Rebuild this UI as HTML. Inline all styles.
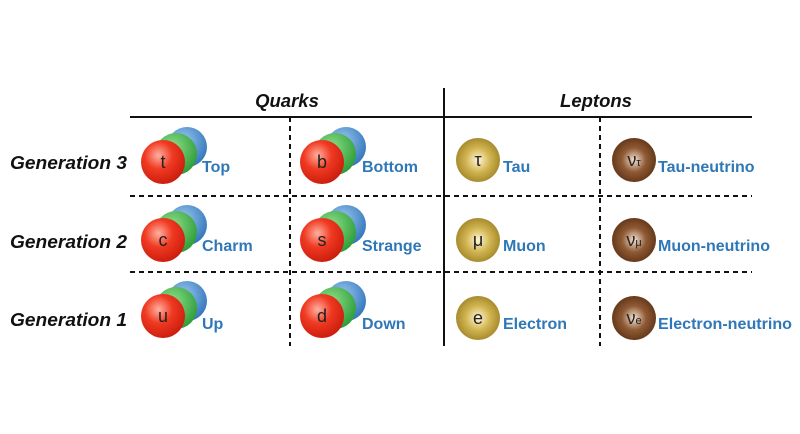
<!DOCTYPE html>
<html><head><meta charset="utf-8"><style>
html,body{margin:0;padding:0;background:#fff;width:800px;height:434px;overflow:hidden}
svg text{font-family:"Liberation Sans",Arial,sans-serif}
</style></head><body>
<svg width="800" height="434" viewBox="0 0 800 434" xmlns="http://www.w3.org/2000/svg">
<defs>
<radialGradient id="r" cx="0.4" cy="0.35" r="0.7"><stop offset="0" stop-color="#ffb0a0"/><stop offset="0.45" stop-color="#f03a22"/><stop offset="1" stop-color="#c81a0c"/></radialGradient>
<radialGradient id="g" cx="0.4" cy="0.35" r="0.7"><stop offset="0" stop-color="#8fe08a"/><stop offset="1" stop-color="#2a9a36"/></radialGradient>
<radialGradient id="b" cx="0.4" cy="0.35" r="0.7"><stop offset="0" stop-color="#9cc8f0"/><stop offset="1" stop-color="#2f74b8"/></radialGradient>
<radialGradient id="y" cx="0.5" cy="0.5" r="0.55"><stop offset="0" stop-color="#fff6d8"/><stop offset="0.5" stop-color="#d2b552"/><stop offset="1" stop-color="#9e8224"/></radialGradient>
<radialGradient id="n" cx="0.5" cy="0.5" r="0.55"><stop offset="0" stop-color="#f4e2d2"/><stop offset="0.5" stop-color="#8f5a34"/><stop offset="1" stop-color="#5c3216"/></radialGradient>
<g id="q"><circle cx="24" cy="-15" r="20" fill="url(#b)"/><circle cx="13" cy="-8" r="21" fill="url(#g)"/><circle cx="0" cy="0" r="22" fill="url(#r)"/></g>
</defs>
<g stroke="#111" fill="none">
<line x1="130" y1="117" x2="752" y2="117" stroke-width="2"/>
<line x1="444" y1="88" x2="444" y2="346" stroke-width="2"/>
<line x1="290" y1="117" x2="290" y2="346" stroke-width="2" stroke-dasharray="5,4"/>
<line x1="600" y1="117" x2="600" y2="346" stroke-width="2" stroke-dasharray="5,4"/>
<line x1="130" y1="196" x2="752" y2="196" stroke-width="2" stroke-dasharray="5,4"/>
<line x1="130" y1="272" x2="752" y2="272" stroke-width="2" stroke-dasharray="5,4"/>
</g>
<g font-weight="bold" font-style="italic" font-size="18.5" fill="#111">
<text x="287" y="107" text-anchor="middle">Quarks</text>
<text x="596" y="107" text-anchor="middle">Leptons</text>
<text x="10" y="169" textLength="117" lengthAdjust="spacingAndGlyphs">Generation 3</text>
<text x="10" y="248" textLength="117" lengthAdjust="spacingAndGlyphs">Generation 2</text>
<text x="10" y="326" textLength="117" lengthAdjust="spacingAndGlyphs">Generation 1</text>
</g>
<use href="#q" x="163" y="162"/><use href="#q" x="322" y="162"/>
<use href="#q" x="163" y="240"/><use href="#q" x="322" y="240"/>
<use href="#q" x="163" y="316"/><use href="#q" x="322" y="316"/>
<circle cx="478" cy="160" r="22" fill="url(#y)"/><circle cx="478" cy="240" r="22" fill="url(#y)"/><circle cx="478" cy="318" r="22" fill="url(#y)"/>
<circle cx="634" cy="160" r="22" fill="url(#n)"/><circle cx="634" cy="240" r="22" fill="url(#n)"/><circle cx="634" cy="318" r="22" fill="url(#n)"/>
<g font-size="18" fill="#222" text-anchor="middle">
<text x="163" y="168">t</text><text x="322" y="168">b</text>
<text x="163" y="246">c</text><text x="322" y="246">s</text>
<text x="163" y="322">u</text><text x="322" y="322">d</text>
<text x="478" y="166">τ</text><text x="478" y="246">μ</text><text x="478" y="324">e</text>
<text x="634" y="166">ν<tspan font-size="11">τ</tspan></text>
<text x="634" y="246">ν<tspan font-size="11">μ</tspan></text>
<text x="634" y="324">ν<tspan font-size="11">e</tspan></text>
</g>
<g font-size="16" font-weight="bold" fill="#2f78b8">
<text x="202" y="172">Top</text><text x="362" y="172">Bottom</text>
<text x="503" y="172">Tau</text><text x="658" y="172">Tau-neutrino</text>
<text x="202" y="251">Charm</text><text x="362" y="251">Strange</text>
<text x="503" y="251">Muon</text><text x="658" y="251">Muon-neutrino</text>
<text x="202" y="329">Up</text><text x="362" y="329">Down</text>
<text x="503" y="329">Electron</text><text x="658" y="329" textLength="134" lengthAdjust="spacingAndGlyphs">Electron-neutrino</text>
</g>
</svg>
</body></html>
